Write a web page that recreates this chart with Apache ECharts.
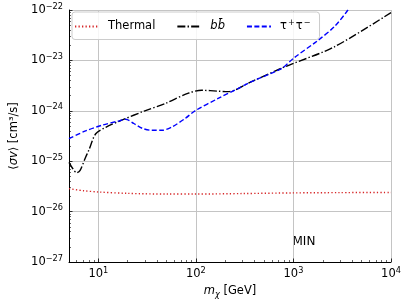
<!DOCTYPE html>
<html>
<head>
<meta charset="utf-8">
<script src="https://cdn.jsdelivr.net/npm/echarts@6/dist/echarts.min.js"></script>
<style>
html,body{margin:0;padding:0;background:#fff;}
#c{width:407px;height:305px;}
#err{position:absolute;left:0;top:150px;font:10px sans-serif;color:red;width:407px;}
</style>
</head>
<body>
<div id="c"></div>
<div id="err"></div>
<script>
window.onerror = function (m) { document.getElementById('err').textContent += m + ' | '; };
// ---- data ----
var seriesNames = ['Thermal', 'bb\u0304', '\u03c4\u207a\u03c4\u207b'];

var thermalMass = [5, 7, 10, 20, 50, 100, 300, 1000, 3000, 10000];
var thermalSigma = [2.85e-26, 2.6e-26, 2.45e-26, 2.3e-26, 2.23e-26, 2.23e-26, 2.28e-26, 2.35e-26, 2.38e-26, 2.4e-26];

var bbMass = [5, 5.5, 6, 6.5, 7.4, 8, 9.4, 11.9, 17.6, 30, 48.6, 84, 115, 170, 214, 372, 755, 1000, 2630, 10000];
var bbSigma = [9.5e-26, 7e-26, 5.9e-26, 6.6e-26, 1.2e-25, 1.67e-25, 3.5e-25, 4.7e-25, 6.6e-25, 1.0e-24, 1.4e-24, 2.25e-24, 2.55e-24, 2.45e-24, 2.4e-24, 3.8e-24, 7.0e-24, 8.7e-24, 1.86e-23, 8.9e-23];

var tauMass = [5, 7.4, 11, 16.3, 19, 23.1, 28.1, 35.6, 45, 57, 78, 98, 171, 273, 372, 755, 1000, 1786, 2636, 3614, 4500];
var tauSigma = [2.8e-25, 4.0e-25, 5.2e-25, 6.3e-25, 6.8e-25, 5.6e-25, 4.5e-25, 4.1e-25, 4.1e-25, 4.8e-25, 7.1e-25, 1.0e-24, 1.78e-24, 2.8e-24, 3.8e-24, 6.9e-24, 1.1e-23, 2.5e-23, 4.7e-23, 1.0e-22, 2.0e-22];

var xMin = 5, xMax = 10000;
var yMin = 1e-27, yMax = 1e-22;
var annotation = 'MIN';

// y is plotted in units of 1e-27 (the axis is still logarithmic; labels show the true power)
var yUnitExp = -27;
var yScale = Math.pow(10, -yUnitExp);
function zip(a, b, s) { return a.map(function (v, i) { return [v, b[i] * s]; }); }
function powLabelWithShift(shift) {
  return function (v) {
    var e = Math.round(Math.log10(v));
    if (Math.abs(v / Math.pow(10, e) - 1) > 1e-6) return '';
    var s = String(e + shift).replace('-', '\u2212');
    return '{b|10}{s|' + s + '}';
  };
}
function minorTicks(lo, hi) {
  var out = [];
  for (var e = Math.floor(Math.log10(lo)); e <= Math.ceil(Math.log10(hi)); e++) {
    for (var k = 2; k <= 9; k++) {
      var v = k * Math.pow(10, e);
      if (v > lo * 1.0001 && v < hi * 0.9999) out.push(v);
    }
  }
  return out;
}
var FONT = 'DejaVu Sans';
var labelRich = {
  b: { fontSize: 11.5, fontFamily: FONT, color: '#000', lineHeight: 15 },
  s: { fontSize: 8.2, fontFamily: FONT, color: '#000', lineHeight: 8, verticalAlign: 'top' }
};
var gridColor = '#c4c4c4';

try {
var chart = echarts.init(document.getElementById('c'), null, { renderer: 'canvas' });
chart.setOption({
  animation: false,
  backgroundColor: '#fff',
  textStyle: { fontFamily: FONT },
  grid: { left: 67, right: 16, top: 10, bottom: 43 },
  legend: {
    left: 72, top: 12,
    padding: [7, 8, 7, 2],
    itemWidth: 24, itemHeight: 12, itemGap: 21,
    backgroundColor: 'rgba(255,255,255,0.85)',
    borderColor: '#cccccc', borderWidth: 1, borderRadius: 3,
    itemStyle: { opacity: 0 },
    formatter: function (name) {
      if (name === seriesNames[2]) return '{n|\u03c4}{s|+}{n|\u03c4}{s|\u2212}';
      if (name === seriesNames[1]) return '{it|' + name + '}';
      return '{n|' + name + '}';
    },
    textStyle: {
      fontFamily: FONT, fontSize: 11.5, color: '#000', padding: [0, 0, 0, 4],
      rich: {
        n: { fontFamily: FONT, fontSize: 11.5, color: '#000', lineHeight: 15 },
        it: { fontFamily: FONT, fontSize: 11.5, color: '#000', lineHeight: 15, fontStyle: 'italic' },
        s: { fontFamily: FONT, fontSize: 8.2, color: '#000', lineHeight: 8, verticalAlign: 'top', padding: [0, 1, 0, 1] }
      }
    },
    data: [
      { name: seriesNames[0] },
      { name: seriesNames[1] },
      { name: seriesNames[2] }
    ]
  },
  xAxis: [{
    type: 'log', logBase: 10, min: xMin, max: xMax,
    name: '{i|m}{sub|\u03c7} [GeV]',
    nameLocation: 'middle', nameGap: 20,
    nameTextStyle: {
      fontFamily: FONT, fontSize: 11.5, color: '#000',
      rich: {
        i: { fontStyle: 'italic', fontSize: 11.5, fontFamily: FONT, color: '#000', lineHeight: 15 },
        sub: { fontStyle: 'italic', fontSize: 8.2, fontFamily: FONT, color: '#000', lineHeight: 8, verticalAlign: 'bottom' }
      }
    },
    axisLine: { show: true, lineStyle: { color: '#000', width: 1 } },
    axisTick: { show: true, inside: true, length: 3.5, lineStyle: { color: '#000', width: 0.8 } },
    axisLabel: { margin: 5, formatter: powLabelWithShift(0), rich: labelRich },
    splitLine: { show: true, lineStyle: { color: gridColor, width: 1 } }
  }, {
    type: 'log', logBase: 10, min: xMin, max: xMax, position: 'bottom', offset: 0,
    axisLine: { show: false },
    axisTick: { show: true, inside: true, length: 2, customValues: minorTicks(xMin, xMax), lineStyle: { color: '#000', width: 0.6 } },
    axisLabel: { show: false },
    splitLine: { show: false }
  }],
  yAxis: [{
    type: 'log', logBase: 10, min: yMin * yScale, max: yMax * yScale,
    name: '\u27e8{i|\u03c3v}\u27e9 [cm\u00b3/s]',
    nameLocation: 'middle', nameGap: 49,
    nameTextStyle: {
      fontFamily: FONT, fontSize: 11.5, color: '#000',
      rich: { i: { fontStyle: 'italic', fontSize: 11.5, fontFamily: FONT, color: '#000' } }
    },
    axisLine: { show: true, lineStyle: { color: '#000', width: 1 } },
    axisTick: { show: true, inside: true, length: 3.5, lineStyle: { color: '#000', width: 0.8 } },
    axisLabel: { margin: 6, formatter: powLabelWithShift(yUnitExp), rich: labelRich },
    splitLine: { show: true, lineStyle: { color: gridColor, width: 1 } }
  }, {
    type: 'log', logBase: 10, min: yMin * yScale, max: yMax * yScale, position: 'left', offset: 0,
    axisLine: { show: false },
    axisTick: { show: true, inside: true, length: 2, customValues: minorTicks(yMin * yScale, yMax * yScale), lineStyle: { color: '#000', width: 0.6 } },
    axisLabel: { show: false },
    splitLine: { show: false }
  }],
  series: [{
    name: seriesNames[0], type: 'line', xAxisIndex: 0, yAxisIndex: 0,
    data: zip(thermalMass, thermalSigma, yScale), smooth: 0.3, showSymbol: false, symbol: 'none',
    lineStyle: { color: '#d62728', width: 1.4, type: [1.3, 2.2] },
    itemStyle: { color: '#d62728' }
  }, {
    name: seriesNames[1], type: 'line', xAxisIndex: 0, yAxisIndex: 0,
    data: zip(bbMass, bbSigma, yScale), smooth: 0.3, showSymbol: false, symbol: 'none',
    lineStyle: { color: '#000', width: 1.4, type: [8, 2.2, 1.4, 2.2] },
    itemStyle: { color: '#000' }
  }, {
    name: seriesNames[2], type: 'line', xAxisIndex: 0, yAxisIndex: 0,
    data: zip(tauMass, tauSigma, yScale), smooth: 0.3, showSymbol: false, symbol: 'none',
    lineStyle: { color: '#0000ff', width: 1.4, type: [5, 2.4] },
    itemStyle: { color: '#0000ff' }
  }],
  graphic: [{
    type: 'text', left: 292.5, top: 236,
    style: { text: annotation, fontFamily: FONT, fontSize: 12, fill: '#000' }
  }]
});
} catch (e) { document.getElementById('err').textContent += 'EXC ' + e.message + ' ' + (e.stack || '').slice(0, 300); }
</script>
</body>
</html>
